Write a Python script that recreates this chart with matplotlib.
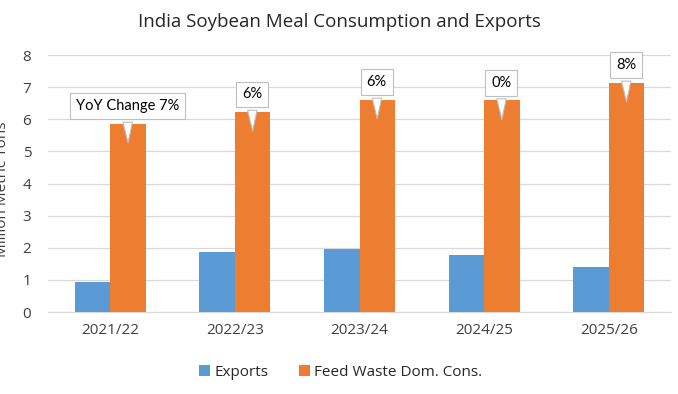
import numpy as np
import matplotlib.pyplot as plt

# data
years = ['2021/22', '2022/23', '2023/24', '2024/25', '2025/26']
exports = [0.93, 1.87, 1.96, 1.78, 1.39]
feed_waste_dom = [5.86, 6.23, 6.61, 6.59, 7.14]
yoy_labels = ['YoY Change 7%', '6%', '6%', '0%', '8%']

blue = '#5B9BD5'
orange = '#ED7D31'

fig = plt.figure(figsize=(6.78, 3.94), dpi=100)
ax = fig.add_axes([0.0708, 0.208, 0.919, 0.652])

x = np.arange(len(years))
w = 0.285
ax.bar(x - w / 2, exports, w, color=blue, label='Exports', zorder=3)
ax.bar(x + w / 2, feed_waste_dom, w, color=orange, label='Feed Waste Dom. Cons.', zorder=3)

# callouts
for i, (v, lab) in enumerate(zip(feed_waste_dom, yoy_labels)):
    ax.annotate(lab, xy=(x[i] + w / 2, v - 0.68), xytext=(x[i] + w / 2 - 0.005, v + 0.55),
                ha='center', va='center', fontsize=10.5, family='Lato', color='#000000',
                bbox=dict(boxstyle='square,pad=0.4', fc='white', ec='#BFBFBF', lw=0.8),
                arrowprops=dict(arrowstyle='wedge,tail_width=0.65,shrink_factor=0.5',
                                fc='white', ec='#BFBFBF', lw=0.8),
                zorder=5)

ax.set_xlim(-0.5, len(years) - 0.5)
ax.set_ylim(0, 8)
ax.set_yticks(range(0, 9))
ax.set_xticks(x)
ax.set_xticklabels(years)
ax.grid(axis='y', color='#D9D9D9', lw=0.9, zorder=0)
for s in ['top', 'right', 'left']:
    ax.spines[s].set_visible(False)
ax.spines['bottom'].set_color('#D9D9D9')
ax.tick_params(length=0, labelsize=11, labelcolor='#404040', pad=8)
ax.tick_params(axis='y', pad=12)
for t in ax.get_xticklabels() + ax.get_yticklabels():
    t.set_family('Open Sans')

fig.text(0.5, 0.945, 'India Soybean Meal Consumption and Exports', ha='center', va='center',
         fontsize=13.5, family='Open Sans', color='#262626')
fig.text(0.004, 0.52, 'Million Metric Tons', rotation=90, ha='center', va='center',
         fontsize=11, family='Open Sans', color='#404040')

ax.legend(loc='center', bbox_to_anchor=(0.47, -0.235), ncol=2, frameon=False,
          prop={'family': 'Open Sans', 'size': 11}, handlelength=0.7, handleheight=0.7,
          handletextpad=0.3, columnspacing=2.0, labelcolor='#262626')

fig.savefig('out.png', dpi=100)
